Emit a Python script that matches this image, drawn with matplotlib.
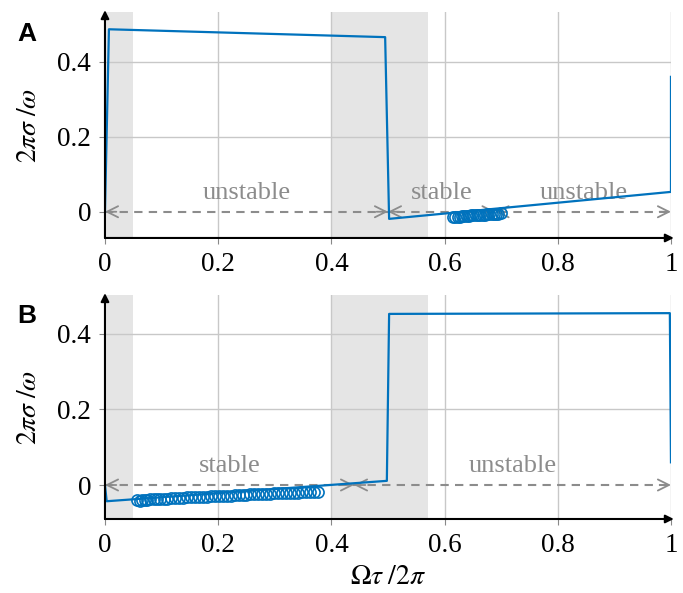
import numpy as np
import matplotlib.pyplot as plt

plt.rcParams['font.family'] = ['Liberation Serif', 'DejaVu Serif']
plt.rcParams['mathtext.fontset'] = 'stix'

# panel A data
a_line_x = [0.0, 0.007, 0.495, 0.502, 1.0, 1.0]
a_line_y = [0.0, 0.487, 0.466, -0.019, 0.053, 0.36]
a_pts_x = [0.615, 0.619, 0.623, 0.627, 0.631, 0.635, 0.639, 0.643, 0.647, 0.651,
           0.655, 0.659, 0.663, 0.667, 0.671, 0.675, 0.679, 0.683, 0.687, 0.691, 0.695, 0.700]
a_pts_y = [-0.014, -0.014, -0.013, -0.013, -0.012, -0.012, -0.011, -0.011, -0.010, -0.010,
           -0.009, -0.009, -0.008, -0.008, -0.008, -0.007, -0.007, -0.006, -0.006, -0.005,
           -0.005, -0.004]
a_bounds = [0.0, 0.5, 0.69, 1.0]
a_labels = ['unstable', 'stable', 'unstable']

# panel B data
b_line_x = [0.0, 0.003, 0.498, 0.502, 0.998, 1.0]
b_line_y = [0.0, -0.043, 0.011, 0.453, 0.455, 0.06]
b_pts_x = [0.057, 0.062, 0.066, 0.070, 0.075, 0.080, 0.086, 0.092, 0.098, 0.104,
           0.110, 0.117, 0.124, 0.131, 0.138, 0.145, 0.152, 0.159, 0.166, 0.173,
           0.180, 0.187, 0.194, 0.201, 0.208, 0.215, 0.222, 0.229, 0.236, 0.243,
           0.250, 0.257, 0.264, 0.271, 0.278, 0.285, 0.292, 0.299, 0.306, 0.313,
           0.320, 0.327, 0.334, 0.341, 0.348, 0.355, 0.362, 0.369, 0.376]
b_pts_y = [-0.040, -0.042, -0.041, -0.039, -0.040, -0.038, -0.038, -0.037, -0.037, -0.036,
           -0.036, -0.035, -0.035, -0.034, -0.034, -0.033, -0.033, -0.032, -0.032, -0.031,
           -0.031, -0.030, -0.030, -0.029, -0.029, -0.028, -0.028, -0.027, -0.027, -0.026,
           -0.026, -0.025, -0.025, -0.024, -0.024, -0.023, -0.023, -0.022, -0.022, -0.021,
           -0.021, -0.020, -0.020, -0.020, -0.019, -0.019, -0.019, -0.018, -0.018]
b_bounds = [0.0, 0.44, 1.0]
b_labels = ['stable', 'unstable']

shaded = [(0.0, 0.05), (0.4, 0.57)]
blue = '#0072BD'
gray = '#8c8c8c'

fig = plt.figure(figsize=(6.83, 5.93), dpi=100)
axA = fig.add_axes([0.1537, 0.5987, 0.8287, 0.381])
axB = fig.add_axes([0.1537, 0.1248, 0.8287, 0.3777])


def draw_panel(ax, lx, ly, px, py, bounds, labels, ylim, letter, letter_y):
    ax.set_xlim(0, 1)
    ax.set_ylim(*ylim)
    for lo, hi in shaded:
        ax.axvspan(lo, hi, color='#e5e5e5', lw=0, zorder=0)
    for x in [0.2, 0.4, 0.6, 0.8, 1.0]:
        ax.axvline(x, color='#c8c8c8', lw=1, zorder=1)
    for y in [0.2, 0.4]:
        ax.axhline(y, color='#c8c8c8', lw=1, zorder=1)

    # dashed stability line with open arrowheads
    ax.plot([bounds[0], bounds[-1]], [0, 0], ls=(0, (4, 3)), color=gray, lw=1.5, zorder=2)
    for i in range(len(bounds) - 1):
        lo, hi = bounds[i], bounds[i + 1]
        for tip, tail in [(lo, lo + 0.02), (hi, hi - 0.02)]:
            ax.annotate('', xy=(tip, 0), xytext=(tail, 0),
                        arrowprops=dict(arrowstyle='->', color=gray, lw=1.3,
                                        mutation_scale=20, shrinkA=0, shrinkB=0),
                        zorder=2)
        ax.text((lo + hi) / 2, 0.022, labels[i], color=gray, fontsize=19,
                ha='center', va='bottom', zorder=2)

    ax.plot(lx, ly, color=blue, lw=1.6, zorder=3)
    ax.plot(px, py, 'o', mfc='none', mec=blue, ms=8, mew=1.2, zorder=4)

    for s in ax.spines.values():
        s.set_visible(False)
    ax.annotate('', xy=(1.005, ylim[0]), xytext=(0, ylim[0]),
                arrowprops=dict(arrowstyle='-|>', color='black', lw=1.5,
                                mutation_scale=12, shrinkA=0, shrinkB=0),
                annotation_clip=False)
    ax.annotate('', xy=(0, ylim[1] + 0.005), xytext=(0, ylim[0]),
                arrowprops=dict(arrowstyle='-|>', color='black', lw=1.5,
                                mutation_scale=12, shrinkA=0, shrinkB=0),
                annotation_clip=False)

    ax.set_xticks([0, 0.2, 0.4, 0.6, 0.8, 1])
    ax.set_xticklabels(['0', '0.2', '0.4', '0.6', '0.8', '1'])
    ax.set_yticks([0, 0.2, 0.4])
    ax.set_yticklabels(['0', '0.2', '0.4'])
    ax.tick_params(labelsize=19.5, color='#888888', length=4, width=0.8, pad=6)
    ax.set_ylabel(r'$2\pi\sigma\;/\omega$', fontsize=20)
    ax.yaxis.set_label_coords(-0.112, 0.5)
    ax.text(-0.155, letter_y, letter, transform=ax.transAxes, fontsize=19,
            fontweight='bold', family='Liberation Sans', ha='left', va='top')


draw_panel(axA, a_line_x, a_line_y, a_pts_x, a_pts_y, a_bounds, a_labels,
           (-0.07, 0.533), 'A', 0.955)
draw_panel(axB, b_line_x, b_line_y, b_pts_x, b_pts_y, b_bounds, b_labels,
           (-0.09, 0.503), 'B', 0.96)
axB.set_xlabel(r'$\Omega\tau\;/2\pi$', fontsize=20)
axB.xaxis.set_label_coords(0.5, -0.205)

fig.savefig('out.png', dpi=100)
